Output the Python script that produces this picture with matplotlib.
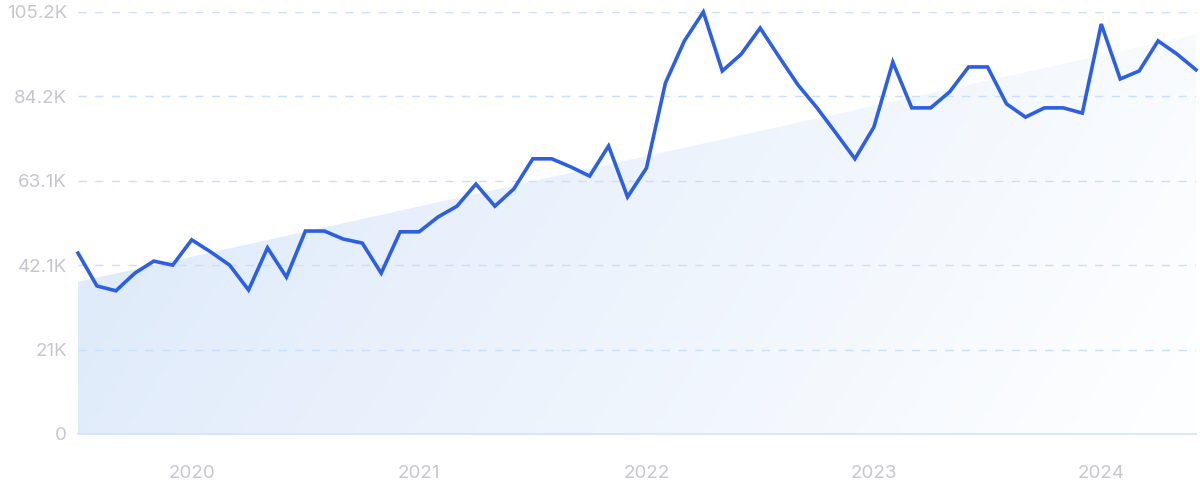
import numpy as np
import matplotlib
matplotlib.use("Agg")
import matplotlib.pyplot as plt
from matplotlib.patches import Polygon

plt.rcParams['font.family'] = ['Inter', 'DejaVu Sans']

# monthly values, Jul 2019 .. Jun 2024 (thousands)
values = [45.1, 36.9, 35.7, 40.1, 43.1, 42.1,
          48.4, 45.4, 42.1, 35.9, 46.4, 39.1, 50.6, 50.6, 48.6, 47.6, 40.1, 50.4,
          50.4, 54.1, 56.8, 62.3, 56.8, 61.1, 68.6, 68.6, 66.6, 64.3, 71.8, 59.1,
          66.3, 87.5, 98.0, 105.2, 90.5, 94.7, 101.2, 94.0, 87.0, 81.3, 75.0, 68.6,
          76.5, 92.7, 81.3, 81.3, 85.3, 91.5, 91.5, 82.3, 79.0, 81.3, 81.3, 80.0,
          102.2, 88.5, 90.5, 98.0, 94.7, 90.8]
trend = [37.9, 99.6]
year_pos = [6, 18, 30, 42, 54]
year_labels = ['2020', '2021', '2022', '2023', '2024']
y_ticks = [0, 21.0, 42.1, 63.1, 84.2, 105.2]
y_labels = ['0', '21K', '42.1K', '63.1K', '84.2K', '105.2K']

x = np.arange(len(values))
v = np.array(values) * 1000

fig = plt.figure(figsize=(12, 4.99), dpi=100)
ax = fig.add_axes([78/1200, 65/499, 1118/1200, 422/499])
ax.set_xlim(0, len(values) - 1)
ax.set_ylim(0, 105200)

# gradient trend area
nx, ny = 300, 100
gx = np.linspace(0, 1, nx)[None, :]
gy = np.linspace(0, 1, ny)[:, None]
t = np.clip(0.85 * gx + 0.2 * gy, 0, 1)
c0 = np.array([0xdb, 0xe8, 0xfa]) / 255
c1 = np.array([0xfd, 0xfe, 0xff]) / 255
img = c0[None, None, :] * (1 - t[..., None]) + c1[None, None, :] * t[..., None]
im = ax.imshow(img, extent=[0, len(values) - 1, 0, 105200], origin='upper',
               aspect='auto', zorder=1)
poly = Polygon([[0, 0], [0, trend[0] * 1000], [len(values) - 1, trend[1] * 1000],
                [len(values) - 1, 0]], closed=True, transform=ax.transData,
               facecolor='none', edgecolor='none')
ax.add_patch(poly)
im.set_clip_path(poly)

for yt in y_ticks[1:]:
    ax.axhline(yt * 1000, color='#c9e0fb', lw=1, ls=(0, (6, 6)), zorder=2)

ax.plot(x, v, color='#2d5fe3', lw=2.6, zorder=3, clip_on=False,
        solid_joinstyle='miter')

for s in ['top', 'right', 'left']:
    ax.spines[s].set_visible(False)
ax.spines['bottom'].set_color('#d2e3fa')
ax.spines['bottom'].set_linewidth(1.2)
ax.spines['bottom'].set_zorder(2)

ax.set_yticks([yt * 1000 for yt in y_ticks])
ax.set_yticklabels(y_labels)
ax.set_xticks(year_pos)
ax.set_xticklabels(year_labels)
ax.tick_params(axis='both', length=0, labelsize=13.5, labelcolor='#c6c6cf')
ax.tick_params(axis='y', pad=8)
ax.tick_params(axis='x', pad=22)

fig.savefig('out.png', dpi=100)
